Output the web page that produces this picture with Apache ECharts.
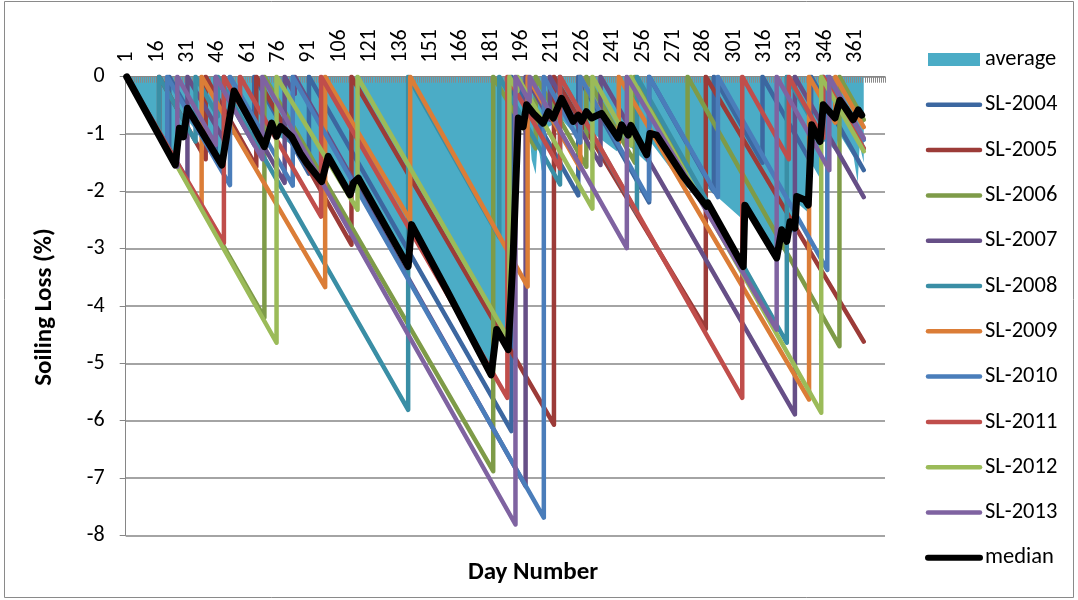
<!DOCTYPE html>
<html>
<head>
<meta charset="utf-8">
<script src="https://cdn.jsdelivr.net/npm/echarts@6/dist/echarts.min.js"></script>
<style>
html,body{margin:0;padding:0;background:#fff;}
#chart{width:1078px;height:600px;}
</style>
</head>
<body>
<div id="chart"></div>
<script>
// ---- data ----
// x-axis categories shown: day numbers; labels appear every 15 days
const tickLabels = [1, 16, 31, 46, 61, 76, 91, 106, 121, 136, 151, 166, 181, 196, 211, 226, 241, 256, 271, 286, 301, 316, 331, 346, 361];
const categoryCount = 375;
const yTicks = [0, -1, -2, -3, -4, -5, -6, -7, -8];

const seriesNames = ['average', 'SL-2004', 'SL-2005', 'SL-2006', 'SL-2007', 'SL-2008', 'SL-2009', 'SL-2010', 'SL-2011', 'SL-2012', 'SL-2013', 'median'];

// [day, soiling loss %] breakpoints
const average = [[1,0],[25,-1.45],[27,-1.0],[31,-0.75],[48,-1.55],[54,-0.5],[69,-1.35],[72,-0.95],[83,-1.2],[97,-1.9],[100,-1.5],[111,-2.15],[115,-1.9],[140,-3.4],[142,-2.75],[182,-5.25],[184,-4.5],[189,-4.85],[191,-3.1],[193,-1.6],[195,-0.9],[200,-1.0],[201,-1.45],[203,-1.7],[204,-1.1],[206,-1.65],[208,-0.9],[216,-0.75],[222,-1.0],[230,-0.95],[243,-1.3],[246,-1.1],[258,-1.5],[260,-1.15],[276,-1.9],[287,-2.1],[288,-1.95],[304,-2.45],[306,-2.25],[322,-3.2],[325,-2.75],[328,-2.65],[331,-2.75],[332,-2.2],[337,-2.35],[339,-1.5],[343,-1.75],[345,-1.05],[351,-1.3],[353,-1.0],[360,-1.4],[362,-1.85],[363,-1.2],[365,-1.5]];

const sl2004 = [[1,0],[22,-1.32],[22,0],[45,-1.44],[45,0],[64,-1.19],[64,0],[91,-1.69],[91,0],[191,-6.18],[191,0],[224,-2.07],[224,0],[259,-2.19],[259,0],[291,-2.0],[291,0],[315,-1.5],[315,0],[339,-1.5],[339,0],[365,-1.63]];
const sl2005 = [[1,0],[17,-1.0],[17,0],[40,-1.44],[40,0],[65,-1.57],[65,0],[112,-2.93],[112,0],[212,-6.07],[212,0],[287,-4.4],[287,0],[365,-4.62]];
const sl2006 = [[1,0],[69,-4.2],[69,0],[182,-6.88],[182,0],[203,-1.25],[203,0],[228,-1.57],[228,0],[252,-1.5],[252,0],[278,-1.63],[278,0],[353,-4.7],[353,0],[365,-0.75]];
const sl2007 = [[1,0],[31,-1.8],[31,0],[49,-1.1],[49,0],[79,-1.85],[79,0],[84,-0.3],[84,0],[198,-7.14],[198,0],[210,-0.75],[210,0],[235,-1.54],[235,0],[331,-5.89],[331,0],[365,-2.1]];
const sl2008 = [[1,0],[17,-1.0],[17,0],[35,-1.13],[35,0],[46,-0.69],[46,0],[140,-5.81],[140,0],[185,-2.8],[185,0],[215,-1.88],[215,0],[253,-2.38],[253,0],[327,-4.64],[327,0],[345,-1.1],[345,0],[365,-1.25]];
const sl2009 = [[1,0],[38,-2.26],[38,0],[99,-3.67],[99,0],[141,-2.5],[141,0],[199,-3.66],[199,0],[225,-1.6],[225,0],[244,-1.17],[244,0],[338,-5.63],[338,0],[351,-0.8],[351,0],[365,-0.88]];
const sl2010 = [[1,0],[21,-1.28],[21,0],[52,-1.89],[52,0],[83,-1.9],[83,0],[207,-7.69],[207,0],[225,-1.15],[225,0],[259,-2.15],[259,0],[293,-2.1],[293,0],[347,-3.37],[347,0],[365,-1.1]];
const sl2011 = [[1,0],[49,-2.9],[49,0],[57,-0.5],[57,0],[97,-2.44],[97,0],[189,-5.6],[189,0],[215,-1.6],[215,0],[305,-5.6],[305,0],[328,-1.44],[328,0],[345,-1.07],[345,0],[365,-1.25]];
const sl2012 = [[1,0],[75,-4.64],[75,0],[115,-2.32],[115,0],[190,-4.6],[190,0],[194,-0.25],[194,0],[231,-2.3],[231,0],[250,-1.2],[250,0],[344,-5.86],[344,0],[365,-1.3]];
const sl2013 = [[1,0],[26,-1.57],[26,0],[45,-1.19],[45,0],[68,-1.44],[68,0],[193,-7.81],[193,0],[200,-0.44],[200,0],[248,-2.99],[248,0],[322,-4.41],[322,0],[348,-1.63],[348,0],[365,-1.07]];
const median = [[1,0],[25,-1.54],[27,-0.9],[29,-1.05],[31,-0.55],[48,-1.54],[54,-0.25],[69,-1.22],[72.6,-0.81],[75,-1.04],[77,-0.87],[82.5,-1.05],[86.6,-1.33],[90,-1.51],[97.3,-1.83],[100.5,-1.39],[111.3,-2.06],[113,-1.85],[115.4,-1.77],[140,-3.31],[141.7,-2.58],[159,-3.72],[181,-5.2],[183.7,-4.41],[189.4,-4.76],[191.9,-3.08],[194.4,-0.72],[196.8,-0.87],[198.5,-0.49],[201.8,-0.64],[206.7,-0.81],[209.2,-0.61],[211.7,-0.72],[215.8,-0.38],[221.5,-0.78],[224,-0.67],[225.7,-0.78],[228,-0.61],[230.6,-0.72],[235.5,-0.64],[243.7,-1.07],[245.4,-0.84],[248.7,-1.02],[250,-0.85],[257.8,-1.36],[259.4,-0.99],[262.7,-1.02],[275.9,-1.74],[287.4,-2.26],[288,-2.2],[305.5,-3.31],[306.3,-2.24],[322,-3.16],[324.5,-2.67],[327,-2.87],[328.6,-2.53],[331,-2.64],[331.9,-2.09],[336,-2.15],[337.6,-2.24],[339.3,-0.84],[343.4,-1.13],[345,-0.49],[350.8,-0.72],[353.2,-0.41],[356,-0.55],[359.8,-0.75],[362.3,-0.58],[364,-0.67]];

const lineSeriesData = [sl2004, sl2005, sl2006, sl2007, sl2008, sl2009, sl2010, sl2011, sl2012, sl2013];
const lineColors = ['#3C67A0', '#9C3B38', '#7E9B48', '#664F87', '#3A8EA5', '#DB7D37', '#4A7DBA', '#C04E4B', '#9BBB59', '#7F63A1'];
const avgColor = '#4BACC6';

// ---- build chart ----
const FONT = 'Carlito, Lato, sans-serif';
const categories = [];
for (let d = 1; d <= categoryCount; d++) categories.push(String(d));

const series = [];
series.push({
  name: 'average', type: 'line', xAxisIndex: 1, data: average,
  showSymbol: false, symbol: 'none', lineStyle: {width: 0, color: avgColor},
  itemStyle: {color: avgColor},
  areaStyle: {color: avgColor, opacity: 1}, animation: false, z: 1
});
lineSeriesData.forEach((d, i) => {
  series.push({
    name: seriesNames[i + 1], type: 'line', xAxisIndex: 1, data: d,
    showSymbol: false, symbol: 'none',
    lineStyle: {width: 4.5, color: lineColors[i], cap: 'round', join: 'round'},
    itemStyle: {color: lineColors[i]}, animation: false, z: 3
  });
});
series.push({
  name: 'median', type: 'line', xAxisIndex: 1, data: median,
  showSymbol: false, symbol: 'none',
  lineStyle: {width: 7, color: '#000', cap: 'round', join: 'round'},
  itemStyle: {color: '#000'}, animation: false, z: 4
});

const legendData = seriesNames.map((n, i) => {
  if (n === 'average') return {name: n, icon: 'rect'};
  const col = n === 'median' ? '#000' : lineColors[i - 1];
  return {
    name: n,
    itemStyle: {opacity: 0, borderWidth: 0},
    lineStyle: {width: n === 'median' ? 6 : 4.5, color: col, cap: 'round'}
  };
});

const chart = echarts.init(document.getElementById('chart'), null, {renderer: 'canvas'});
chart.setOption({
  backgroundColor: '#fff',
  animation: false,
  grid: {left: 125.7, top: 76.7, right: 193, bottom: 64.6, containLabel: false},
  legend: {
    orient: 'vertical', left: 925, top: 48, padding: 0,
    itemWidth: 52, itemHeight: 13, itemGap: 22.3,
    data: legendData,
    textStyle: {fontFamily: FONT, fontSize: 22.5, lineHeight: 21, color: '#000', padding: [0, 0, 0, 0]},
    selectedMode: false
  },
  xAxis: [{
    type: 'category', data: categories, position: 'top', boundaryGap: true, z: 2,
    axisLine: {show: true, lineStyle: {color: '#868686', width: 1}},
    axisTick: {show: true, interval: 0, inside: true, length: 6, lineStyle: {color: '#8a8a8a', width: 1}},
    axisLabel: {
      interval: 14, rotate: 90, fontSize: 22, fontFamily: FONT, color: '#000', margin: 14,
      formatter: v => (tickLabels.indexOf(Number(v)) >= 0 ? v : '')
    },
    splitLine: {show: false}
  }, {
    type: 'value', min: 0.5, max: categoryCount + 0.5, show: false,
    splitLine: {show: false}
  }],
  yAxis: {
    type: 'value', min: yTicks[yTicks.length - 1], max: yTicks[0], interval: 1, z: 0,
    axisLine: {show: true, lineStyle: {color: '#868686', width: 1}},
    axisTick: {show: true, length: 6, lineStyle: {color: '#868686'}},
    axisLabel: {fontSize: 22, fontFamily: FONT, color: '#000', margin: 21},
    splitLine: {show: true, lineStyle: {color: '#868686', width: 1.5}}
  },
  graphic: [
    {type: 'rect', shape: {x: 4.5, y: 1.5, width: 1069, height: 596}, style: {fill: 'none', stroke: '#8a8a8a', lineWidth: 1}, silent: true, z: -1},
    {type: 'text', x: 45, y: 307, rotation: Math.PI / 2,
     style: {text: 'Soiling Loss (%)', font: 'bold 25px ' + FONT, fill: '#000', textAlign: 'center', textVerticalAlign: 'middle'}},
    {type: 'text', x: 533, y: 573,
     style: {text: 'Day Number', font: 'bold 25px ' + FONT, fill: '#000', textAlign: 'center', textVerticalAlign: 'middle'}}
  ],
  series: series
});
</script>
</body>
</html>
